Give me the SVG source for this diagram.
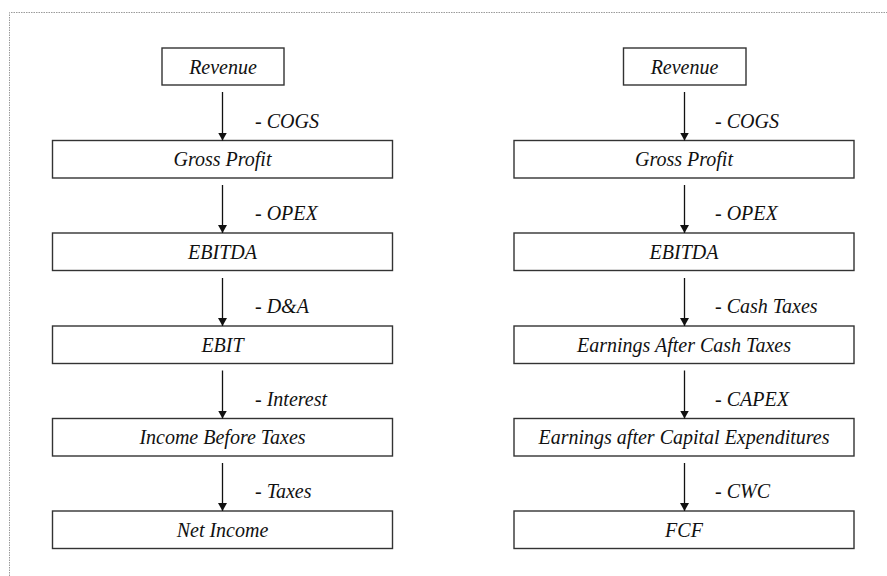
<svg xmlns="http://www.w3.org/2000/svg" width="887" height="576" viewBox="0 0 887 576">
  <defs>
    <marker id="arrow" viewBox="0 0 8 9" refX="8" refY="4.5" markerWidth="8" markerHeight="9" markerUnits="userSpaceOnUse" orient="auto">
      <path d="M0,0 L8,4.5 L0,9 Z" fill="#111"/>
    </marker>
    <style>
      .frame { fill: none; stroke: #9a9a9a; stroke-width: 1; stroke-dasharray: 1.5 1; }
      .box { fill: #ffffff; stroke: #333333; stroke-width: 1.4; }
      .mid { text-anchor: middle; }
      .edge { stroke: #111; stroke-width: 1.3; fill: none; marker-end: url(#arrow); }
    </style>
  </defs>
  <rect width="887" height="576" fill="#ffffff"/>
  <path class="frame" d="M9.5,576 L9.5,12.5 L887,12.5"/>

  <g font-family="Liberation Serif, Times New Roman, Times, serif" font-style="italic" font-size="20" fill="#111">
  <!-- Income statement column -->
  <g id="l-revenue"><rect class="box" x="162" y="48" width="122" height="37"/><text class="mid" x="223" y="73.5">Revenue</text></g>
  <g id="l-gross-profit"><rect class="box" x="52.5" y="140.5" width="340" height="37.5"/><text class="mid" x="222.5" y="166">Gross Profit</text></g>
  <g id="l-ebitda"><rect class="box" x="52.5" y="233" width="340" height="37.5"/><text class="mid" x="222.5" y="258.5">EBITDA</text></g>
  <g id="l-ebit"><rect class="box" x="52.5" y="326" width="340" height="37.5"/><text class="mid" x="222.5" y="351.5">EBIT</text></g>
  <g id="l-ibt"><rect class="box" x="52.5" y="418.5" width="340" height="37.5"/><text class="mid" x="222.5" y="444">Income Before Taxes</text></g>
  <g id="l-net-income"><rect class="box" x="52.5" y="511" width="340" height="37.5"/><text class="mid" x="222.5" y="536.5">Net Income</text></g>

  <!-- Free cash flow column -->
  <g id="r-revenue"><rect class="box" x="623.5" y="48" width="122.5" height="37"/><text class="mid" x="684.5" y="73.5">Revenue</text></g>
  <g id="r-gross-profit"><rect class="box" x="514" y="140.5" width="340" height="37.5"/><text class="mid" x="684" y="166">Gross Profit</text></g>
  <g id="r-ebitda"><rect class="box" x="514" y="233" width="340" height="37.5"/><text class="mid" x="684" y="258.5">EBITDA</text></g>
  <g id="r-eact"><rect class="box" x="514" y="326" width="340" height="37.5"/><text class="mid" x="684" y="351.5">Earnings After Cash Taxes</text></g>
  <g id="r-eace"><rect class="box" x="514" y="418.5" width="340" height="37.5"/><text class="mid" x="684" y="444">Earnings after Capital Expenditures</text></g>
  <g id="r-fcf"><rect class="box" x="514" y="511" width="340" height="37.5"/><text class="mid" x="684" y="536.5">FCF</text></g>

  <!-- Connectors with deduction labels -->
  <g id="connectors">
    <line class="edge" x1="222.5" y1="92" x2="222.5" y2="140.5"/>
    <line class="edge" x1="222.5" y1="185" x2="222.5" y2="233"/>
    <line class="edge" x1="222.5" y1="278" x2="222.5" y2="326"/>
    <line class="edge" x1="222.5" y1="370.5" x2="222.5" y2="418.5"/>
    <line class="edge" x1="222.5" y1="463" x2="222.5" y2="511"/>
    <text x="255" y="127.5">- COGS</text>
    <text x="255" y="220">- OPEX</text>
    <text x="255" y="313">- D&amp;A</text>
    <text x="255" y="405.5">- Interest</text>
    <text x="255" y="498">- Taxes</text>

    <line class="edge" x1="684.5" y1="92" x2="684.5" y2="140.5"/>
    <line class="edge" x1="684.5" y1="185" x2="684.5" y2="233"/>
    <line class="edge" x1="684.5" y1="278" x2="684.5" y2="326"/>
    <line class="edge" x1="684.5" y1="370.5" x2="684.5" y2="418.5"/>
    <line class="edge" x1="684.5" y1="463" x2="684.5" y2="511"/>
    <text x="715" y="127.5">- COGS</text>
    <text x="715" y="220">- OPEX</text>
    <text x="715" y="313">- Cash Taxes</text>
    <text x="715" y="405.5">- CAPEX</text>
    <text x="715" y="498">- CWC</text>
  </g>
  </g>
</svg>
